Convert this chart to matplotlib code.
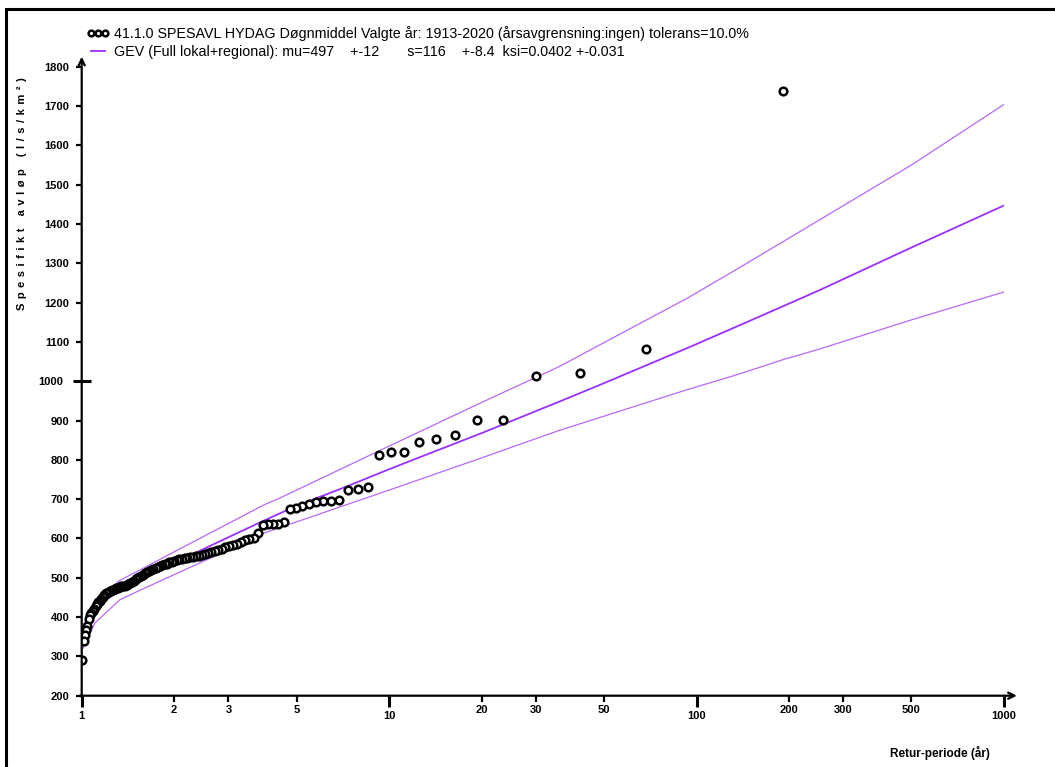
import matplotlib
matplotlib.use('Agg')
import matplotlib.pyplot as plt
from matplotlib.patches import Rectangle
from matplotlib.ticker import FixedLocator

plt.rcParams['font.family'] = ['Liberation Sans', 'DejaVu Sans']

# observed annual maxima, sorted by rank, with their return period (years)
obs_T = [191.286, 68.667, 41.844, 30.090, 23.491, 19.266, 16.329, 14.169, 12.514, 11.205,
         10.144, 9.266, 8.529, 7.900, 7.357, 6.884, 6.469, 6.100, 5.772, 5.476,
         5.210, 4.968, 4.748, 4.547, 4.362, 4.191, 4.033, 3.887, 3.751, 3.624,
         3.505, 3.394, 3.290, 3.192, 3.100, 3.012, 2.930, 2.852, 2.778, 2.708,
         2.641, 2.577, 2.517, 2.459, 2.404, 2.351, 2.301, 2.252, 2.206, 2.161,
         2.119, 2.078, 2.038, 2.000, 1.963, 1.928, 1.894, 1.861, 1.829, 1.799,
         1.769, 1.740, 1.712, 1.685, 1.659, 1.634, 1.609, 1.586, 1.562, 1.540,
         1.518, 1.497, 1.476, 1.456, 1.437, 1.418, 1.399, 1.381, 1.364, 1.346,
         1.330, 1.313, 1.297, 1.282, 1.267, 1.252, 1.238, 1.223, 1.210, 1.196,
         1.183, 1.170, 1.157, 1.145, 1.133, 1.121, 1.109, 1.098, 1.087, 1.076,
         1.065, 1.055, 1.044, 1.034, 1.024, 1.015, 1.005]
obs_q = [1737, 1083, 1022, 1012, 902, 902, 862, 853, 846, 820,
         820, 812, 732, 725, 722, 699, 696, 694, 693, 688,
         682, 678, 676, 643, 638, 637, 636, 635, 614, 601,
         598, 595, 591, 587, 583, 580, 577, 574, 571, 569,
         566, 563, 560, 558, 556, 555, 553, 552, 551, 549,
         548, 547, 545, 543, 541, 539, 536, 534, 532, 530,
         528, 526, 523, 520, 517, 514, 511, 508, 505, 502,
         499, 496, 493, 490, 487, 484, 482, 480, 479, 478,
         476, 475, 473, 472, 470, 468, 466, 464, 462, 460,
         456, 452, 447, 442, 438, 432, 428, 420, 415, 410,
         405, 395, 378, 368, 355, 340, 290]

# fitted GEV curve and its upper / lower band
mid_T = [1.008, 1.05, 1.1, 1.2, 1.314, 1.565, 2, 3, 3.93, 5, 7, 10, 13, 20,
         35.5, 50, 93.7, 136, 247, 500, 1000]
mid_q = [350, 381, 408, 442, 470, 498, 538, 603, 646, 683, 727, 776, 811, 868,
         947, 995, 1085, 1140, 1229, 1340, 1447]
up_T = [1.01, 1.104, 1.314, 1.565, 2, 3, 3.93, 4.39, 10, 20, 35.5, 93.7, 136, 247, 500, 1000]
up_q = [372, 427, 491, 522, 566, 638, 686, 702, 835, 946, 1036, 1212, 1286, 1407, 1550, 1704]
lo_T = [1.012, 1.104, 1.33, 1.565, 2, 3, 3.93, 4.39, 10, 20, 35.5, 93.7, 136, 195, 247, 500, 1000]
lo_q = [321, 385, 444, 470, 508, 571, 614, 627, 723, 805, 874, 979, 1017, 1057, 1080, 1156, 1227]

x_major = [1, 10, 100, 1000]
x_minor = [2, 3, 5, 20, 30, 50, 200, 300, 500]
y_ticks = [200, 300, 400, 500, 600, 700, 800, 900, 1100, 1200, 1300, 1400, 1500, 1600, 1700, 1800]

legend_obs = '41.1.0 SPESAVL HYDAG Døgnmiddel Valgte år: 1913-2020 (årsavgrensning:ingen) tolerans=10.0%'
legend_fit = 'GEV (Full lokal+regional): mu=497    +-12       s=116    +-8.4  ksi=0.0402 +-0.031'

W, H = 1055, 767
fig = plt.figure(figsize=(W / 100, H / 100), dpi=100)
ax = fig.add_axes([81.7 / W, 1 - 695.7 / H, (1004 - 81.7) / W, (695.7 - 66.7) / H])

line_col = '#9b30ff'
band_col = '#b868fa'
ax.plot(up_T, up_q, color=band_col, lw=0.9)
ax.plot(lo_T, lo_q, color=band_col, lw=0.9)
fit_line, = ax.plot(mid_T, mid_q, color=line_col, lw=1.3)
obs_pts, = ax.plot(obs_T, obs_q, ls='none', marker='o', ms=5.5, mfc='white',
                   mec='black', mew=1.8)

ax.set_xscale('log')
ax.set_xlim(1, 1000)
ax.set_ylim(200, 1800)

ax.xaxis.set_major_locator(FixedLocator(x_major))
ax.xaxis.set_minor_locator(FixedLocator(x_minor))
ax.set_xticklabels([str(v) for v in x_major])
ax.set_xticklabels([str(v) for v in x_minor], minor=True)
ax.yaxis.set_major_locator(FixedLocator([1000]))
ax.yaxis.set_minor_locator(FixedLocator(y_ticks))
ax.set_yticklabels(['1000'])
ax.set_yticklabels([str(v) for v in y_ticks], minor=True)

ax.tick_params(axis='x', which='major', direction='out', length=8, width=2.2,
               pad=3, labelsize=8)
ax.tick_params(axis='x', which='minor', direction='out', length=4, width=1.6,
               pad=3, labelsize=8)
ax.tick_params(axis='y', which='major', direction='inout', length=13, width=2.2,
               pad=7, labelsize=8)
ax.tick_params(axis='y', which='minor', direction='out', length=4, width=1.6,
               pad=5, labelsize=8)
for lab in ax.get_xticklabels(which='both') + ax.get_yticklabels(which='both'):
    lab.set_fontweight('bold')

for side in ['top', 'right', 'left', 'bottom']:
    ax.spines[side].set_visible(False)
arrow = dict(arrowstyle='->,head_length=0.45,head_width=0.22', lw=1.6, color='black',
             shrinkA=0, shrinkB=0)
ax.annotate('', xy=(1.014, 0), xytext=(-0.002, 0), xycoords='axes fraction',
            arrowprops=arrow, annotation_clip=False)
ax.annotate('', xy=(0, 1.016), xytext=(0, -0.002), xycoords='axes fraction',
            arrowprops=arrow, annotation_clip=False)

ax.legend([obs_pts, fit_line], [legend_obs, legend_fit], loc='upper left',
          bbox_to_anchor=(87 / W, 1 - 26 / H), bbox_transform=fig.transFigure,
          frameon=False, fontsize=10.3, numpoints=3, markerscale=0.75,
          handlelength=1.55, handletextpad=0.36, borderpad=0, borderaxespad=0,
          labelspacing=0.3)

ylab = '\u2009\u2009'.join('Spesifikt avløp (l/s/km²)')
fig.text(22 / W, 1 - 194 / H, ylab, rotation=90, ha='center', va='center',
         fontsize=8, fontweight='bold')
fig.text(990 / W, 1 - 753 / H, 'Retur-periode (år)', ha='right', va='center',
         fontsize=8.5, fontweight='bold')

# outer frame (only its left and top edges fall inside the picture)
fig.patches.append(Rectangle((6 / W, -0.1), 1.2, 1.1 - 9 / H, transform=fig.transFigure,
                             fill=False, lw=2.2, ec='black'))

fig.savefig('out.png', dpi=100, facecolor='white')
